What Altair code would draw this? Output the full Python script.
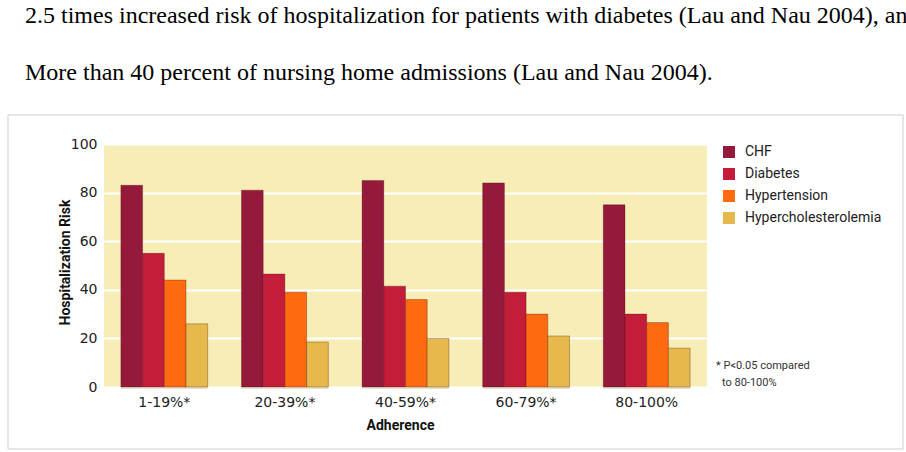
import altair as alt
import pandas as pd

# Adherence bands and conditions
groups = ["1-19%*", "20-39%*", "40-59%*", "60-79%*", "80-100%"]
conditions = ["CHF", "Diabetes", "Hypertension", "Hypercholesterolemia"]

# Hospitalization risk per condition, one value per adherence band
chf = [83, 81, 85, 84, 75]
diabetes = [55, 46.5, 41.5, 39, 30]
hypertension = [44, 39, 36, 30, 26.5]
hyperchol = [26, 18.5, 20, 21, 16]

palette = ["#95193b", "#c41d3a", "#fe6a10", "#e5b94c"]

intro_lines = [
    "2.5 times increased risk of hospitalization for patients with diabetes (Lau and Nau 2004), an",
    "More than 40 percent of nursing home admissions (Lau and Nau 2004).",
]
footnote_lines = ["* P<0.05 compared", "to 80-100%"]

rows = []
for cond, vals in zip(conditions, [chf, diabetes, hypertension, hyperchol]):
    for g, v in zip(groups, vals):
        rows.append({"Adherence": g, "Condition": cond, "Risk": v})
bars_df = pd.DataFrame(rows)

W, H = 603, 243
LEFT, TOP = 104, 144
SANS = "DejaVu Sans"
NARROW = "Roboto, sans-serif"

x_enc = alt.X(
    "Adherence:N",
    sort=groups,
    scale=alt.Scale(paddingInner=0.28, paddingOuter=0.14),
    axis=alt.Axis(
        title="Adherence",
        titleFont=NARROW,
        titleFontSize=14,
        titleFontWeight="bold",
        titleColor="#111",
        titleX=296,
        titleY=38,
        titleBaseline="middle",
        labelFont=SANS,
        labelFontSize=14,
        labelColor="#222",
        labelPadding=8,
        labelAngle=0,
        ticks=False,
        domain=False,
        grid=False,
    ),
)
xoff_enc = alt.XOffset("Condition:N", sort=conditions, scale=alt.Scale(paddingInner=0, paddingOuter=0))
y_enc = alt.Y(
    "Risk:Q",
    scale=alt.Scale(domain=[0, 100], nice=False),
    axis=alt.Axis(
        title="Hospitalization Risk",
        titleFont=NARROW,
        titleFontSize=14,
        titleFontWeight="bold",
        titleColor="#111",
        titleX=-39,
        titleY=118,
        titleAngle=-90,
        titleAlign="center",
        titleBaseline="middle",
        values=[0, 20, 40, 60, 80, 100],
        labelFont=SANS,
        labelFontSize=14,
        labelColor="#222",
        labelPadding=7,
        ticks=False,
        domain=False,
        grid=True,
        gridColor="#ffffff",
        gridWidth=2,
    ),
)

# soft drop shadow to the right of each bar
shadow = alt.Chart(bars_df).mark_bar(
    color="#b9ab6a", opacity=0.35, xOffset=3, yOffset=2
).encode(x=x_enc, xOffset=xoff_enc, y=y_enc)

bars = alt.Chart(bars_df).mark_bar(
    stroke="#4a0614", strokeOpacity=0.3, strokeWidth=1
).encode(
    x=x_enc,
    xOffset=xoff_enc,
    y=y_enc,
    color=alt.Color(
        "Condition:N",
        sort=conditions,
        scale=alt.Scale(domain=conditions, range=palette),
        legend=alt.Legend(
            title=None,
            orient="none",
            legendX=618,
            legendY=1,
            symbolType="square",
            symbolSize=144,
            symbolStrokeWidth=0,
            symbolOpacity=1,
            labelFont=NARROW,
            labelFontSize=14,
            labelColor="#222",
            labelOffset=9,
            rowPadding=8,
            padding=0,
        ),
    ),
)

frame = alt.Chart(alt.Data(values=[{}])).mark_rect(
    fillOpacity=0, stroke="#cfcfcf", strokeWidth=1
).encode(
    x=alt.value(8 - LEFT), x2=alt.value(903 - LEFT),
    y=alt.value(115 - TOP), y2=alt.value(449 - TOP),
)


def text_line(line, px, py, **style):
    return alt.Chart(alt.Data(values=[{"t": line}])).mark_text(
        align="left", **style
    ).encode(text="t:N", x=alt.value(px - LEFT), y=alt.value(py - TOP))


intro_layers = [
    text_line(line, 25, py, font="Liberation Serif", fontSize=24,
              baseline="alphabetic", color="#000")
    for line, py in zip(intro_lines, [23, 80])
]
foot_layers = [
    text_line(line, px, py, font=NARROW, fontSize=11, baseline="middle", color="#333")
    for line, px, py in zip(footnote_lines, [716, 722], [366, 383])
]

chart = alt.layer(frame, shadow, bars, *intro_layers, *foot_layers).properties(
    width=W,
    height=H,
    padding={"left": LEFT, "top": TOP, "right": 906 - LEFT - W, "bottom": 452 - TOP - H},
    autosize=alt.AutoSizeParams(type="none"),
    background="#ffffff",
).configure_view(fill="#f7edb6", stroke=None, clip=False)

chart.save("out.html", embed_options={"renderer": "svg", "actions": False})
